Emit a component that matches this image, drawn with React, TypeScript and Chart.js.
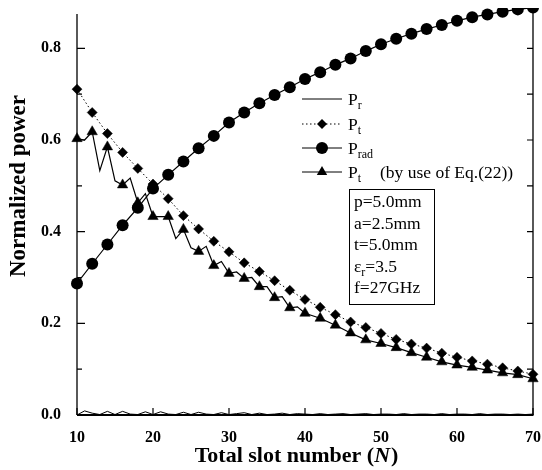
import React, { useEffect, useRef } from "react";
import { Chart, registerables } from "chart.js";

Chart.register(...registerables);

// ---------- data ----------
const slotsEven = [10, 12, 14, 16, 18, 20, 22, 24, 26, 28, 30, 32, 34, 36, 38, 40, 42, 44, 46, 48, 50, 52, 54, 56, 58, 60, 62, 64, 66, 68, 70];
const slotsInt = [10, 11, 12, 13, 14, 15, 16, 17, 18, 19, 20, 21, 22, 23, 24, 25, 26, 27, 28, 29, 30, 31, 32, 33, 34, 35, 36, 37, 38, 39, 40, 41, 42, 43, 44, 45, 46, 47, 48, 49, 50, 51, 52, 53, 54, 55, 56, 57, 58, 59, 60, 61, 62, 63, 64, 65, 66, 67, 68, 69, 70];
const slotsEq22 = [10, 11, 12, 13, 14, 15, 16, 17, 18, 19, 20, 21, 22, 23, 24, 25, 26, 27, 28, 29, 30, 31, 32, 33, 34, 35, 36, 37, 38, 39, 40, 42, 44, 46, 48, 50, 52, 54, 56, 58, 60, 62, 64, 66, 68, 70];

const pR = [0.0, 0.009, 0.004, 0.001, 0.008, 0.001, 0.008, 0.002, 0.001, 0.007, 0.001, 0.007, 0.002, 0.001, 0.006, 0.001, 0.006, 0.002, 0.001, 0.005, 0.001, 0.003, 0.005, 0.001, 0.004, 0.001, 0.002, 0.004, 0.001, 0.003, 0.002, 0.001, 0.003, 0.001, 0.002, 0.003, 0.001, 0.002, 0.003, 0.001, 0.002, 0.002, 0.001, 0.003, 0.001, 0.002, 0.002, 0.001, 0.003, 0.001, 0.002, 0.002, 0.001, 0.003, 0.001, 0.002, 0.002, 0.001, 0.002, 0.001, 0.002];
const pT = [0.711, 0.660, 0.614, 0.573, 0.538, 0.504, 0.472, 0.435, 0.406, 0.379, 0.356, 0.332, 0.313, 0.293, 0.272, 0.252, 0.235, 0.219, 0.203, 0.191, 0.178, 0.165, 0.155, 0.146, 0.135, 0.126, 0.118, 0.111, 0.103, 0.096, 0.089];
const pRad = [0.287, 0.330, 0.372, 0.414, 0.452, 0.494, 0.524, 0.553, 0.582, 0.609, 0.638, 0.660, 0.680, 0.698, 0.715, 0.733, 0.748, 0.764, 0.778, 0.794, 0.809, 0.821, 0.832, 0.842, 0.851, 0.860, 0.868, 0.874, 0.880, 0.885, 0.889];
const pTEq22 = [0.603, 0.600, 0.618, 0.533, 0.585, 0.511, 0.502, 0.517, 0.463, 0.483, 0.433, 0.433, 0.433, 0.385, 0.405, 0.365, 0.357, 0.368, 0.326, 0.335, 0.309, 0.312, 0.298, 0.300, 0.280, 0.280, 0.256, 0.258, 0.234, 0.236, 0.222, 0.211, 0.196, 0.179, 0.164, 0.156, 0.147, 0.136, 0.126, 0.116, 0.109, 0.104, 0.098, 0.092, 0.088, 0.079];

const xTickValues = [10, 20, 30, 40, 50, 60, 70];
const yMajorTicks = [0, 0.2, 0.4, 0.6, 0.8];
const yMinorTicks = [0.1, 0.3, 0.5, 0.7];

const xTitle = ["Total slot number (", "N", ")"];
const yTitle = "Normalized power";

const legendEntries = [
  { main: "P", sub: "r", extra: "", dashed: false, marker: "" },
  { main: "P", sub: "t", extra: "", dashed: true, marker: "diamond" },
  { main: "P", sub: "rad", extra: "", dashed: false, marker: "circle" },
  { main: "P", sub: "t", extra: "(by use of Eq.(22))", dashed: false, marker: "triangle" },
];

const paramLines = [
  ["p=5.0mm", "", ""],
  ["a=2.5mm", "", ""],
  ["t=5.0mm", "", ""],
  ["ε", "r", "=3.5"],
  ["f=27GHz", "", ""],
];

const SERIF = "'Liberation Serif', 'Times New Roman', serif";

function drawMarker(ctx: CanvasRenderingContext2D, kind: string, x: number, y: number) {
  ctx.save();
  ctx.fillStyle = "#000";
  ctx.beginPath();
  if (kind === "circle") {
    ctx.arc(x, y, 6, 0, Math.PI * 2);
  } else if (kind === "diamond") {
    ctx.moveTo(x, y - 5);
    ctx.lineTo(x + 5, y);
    ctx.lineTo(x, y + 5);
    ctx.lineTo(x - 5, y);
    ctx.closePath();
  } else if (kind === "triangle") {
    const r = 6;
    ctx.moveTo(x, y - r);
    ctx.lineTo(x + r * Math.sin(Math.PI / 3), y + r / 2);
    ctx.lineTo(x - r * Math.sin(Math.PI / 3), y + r / 2);
    ctx.closePath();
  }
  ctx.fill();
  ctx.restore();
}

function drawSubText(ctx: CanvasRenderingContext2D, main: string, sub: string, rest: string, x: number, y: number, size: number) {
  ctx.font = `${size}px ${SERIF}`;
  ctx.fillText(main, x, y);
  let cx = x + ctx.measureText(main).width;
  if (sub) {
    ctx.font = `${Math.round(size * 0.7)}px ${SERIF}`;
    ctx.fillText(sub, cx, y + 4);
    cx += ctx.measureText(sub).width;
  }
  if (rest) {
    ctx.font = `${size}px ${SERIF}`;
    ctx.fillText(rest, cx, y);
    cx += ctx.measureText(rest).width;
  }
  return cx;
}

const decorPlugin = {
  id: "decor",
  afterDraw(chart: any) {
    const ctx: CanvasRenderingContext2D = chart.ctx;
    const { left, right, top, bottom } = chart.chartArea;
    const xs = chart.scales.x;
    const ys = chart.scales.y;
    ctx.save();
    ctx.strokeStyle = "#000";
    ctx.fillStyle = "#000";

    // axes
    ctx.lineWidth = 1.3;
    ctx.beginPath();
    ctx.moveTo(left, top + 6);
    ctx.lineTo(left, bottom);
    ctx.moveTo(right, top);
    ctx.lineTo(right, bottom);
    ctx.stroke();
    ctx.lineWidth = 2;
    ctx.beginPath();
    ctx.moveTo(left, bottom);
    ctx.lineTo(right + 0.5, bottom);
    ctx.stroke();

    // inward ticks
    ctx.lineWidth = 1.2;
    ctx.beginPath();
    yMajorTicks.forEach((v) => {
      const py = ys.getPixelForValue(v);
      ctx.moveTo(left, py);
      ctx.lineTo(left + 8, py);
      ctx.moveTo(right, py);
      ctx.lineTo(right - 6, py);
    });
    yMinorTicks.forEach((v) => {
      const py = ys.getPixelForValue(v);
      ctx.moveTo(left, py);
      ctx.lineTo(left + 5, py);
      ctx.moveTo(right, py);
      ctx.lineTo(right - 6, py);
    });
    xTickValues.forEach((v) => {
      const px = xs.getPixelForValue(v);
      ctx.moveTo(px, bottom);
      ctx.lineTo(px, bottom - 7);
    });
    ctx.stroke();

    // axis titles
    ctx.textBaseline = "alphabetic";
    ctx.font = `bold 23px ${SERIF}`;
    ctx.save();
    ctx.translate(25, 186);
    ctx.rotate(-Math.PI / 2);
    ctx.textAlign = "center";
    ctx.fillText(yTitle, 0, 0);
    ctx.restore();

    ctx.textAlign = "left";
    const f1 = `bold 22px ${SERIF}`;
    const f2 = `italic bold 22px ${SERIF}`;
    ctx.font = f1;
    const w1 = ctx.measureText(xTitle[0]).width;
    const w3 = ctx.measureText(xTitle[2]).width;
    ctx.font = f2;
    const w2 = ctx.measureText(xTitle[1]).width;
    let tx = 296 - (w1 + w2 + w3) / 2;
    const ty = 462;
    ctx.font = f1;
    ctx.fillText(xTitle[0], tx, ty);
    tx += w1;
    ctx.font = f2;
    ctx.fillText(xTitle[1], tx, ty);
    tx += w2 + 1;
    ctx.font = f1;
    ctx.fillText(xTitle[2], tx, ty);

    // legend
    const rowsY = [99, 124, 148, 172];
    legendEntries.forEach((e, i) => {
      const y = rowsY[i];
      ctx.save();
      ctx.lineWidth = 1;
      if (e.dashed) ctx.setLineDash([1.5, 2.5]);
      ctx.beginPath();
      ctx.moveTo(302, y);
      ctx.lineTo(342, y);
      ctx.stroke();
      ctx.restore();
      if (e.marker) drawMarker(ctx, e.marker, 322, y);
      drawSubText(ctx, e.main, e.sub, "", 348, y + 6, 17.5);
      if (e.extra) {
        ctx.font = `17.5px ${SERIF}`;
        ctx.fillText(e.extra, 380, y + 6);
      }
    });

    // parameter box
    ctx.lineWidth = 1;
    ctx.strokeRect(349.5, 189.5, 85, 115);
    paramLines.forEach((p, i) => {
      drawSubText(ctx, p[0], p[1], p[2], 354, 207 + i * 21.5, 17.5);
    });

    ctx.restore();
  },
};

export default function App() {
  const ref = useRef<HTMLCanvasElement | null>(null);

  useEffect(() => {
    document.body.style.margin = "0";
    const canvas = ref.current;
    if (!canvas) return;
    const clip = { left: 12, right: 12, top: 0, bottom: 12 };
    const chart = new Chart(canvas, {
      type: "line",
      data: {
        datasets: [
          {
            label: "Pr",
            data: slotsInt.map((n, i) => ({ x: n, y: pR[i] })),
            borderColor: "#000",
            borderWidth: 1,
            pointRadius: 0,
            clip,
          },
          {
            label: "Pt",
            data: slotsEven.map((n, i) => ({ x: n, y: pT[i] })),
            borderColor: "#000",
            borderWidth: 1,
            borderDash: [1.5, 2.5],
            pointStyle: "rectRot",
            pointRadius: 5,
            pointBackgroundColor: "#000",
            pointBorderColor: "#000",
            pointBorderWidth: 0.5,
            clip,
          },
          {
            label: "Prad",
            data: slotsEven.map((n, i) => ({ x: n, y: pRad[i] })),
            borderColor: "#000",
            borderWidth: 1.2,
            pointStyle: "circle",
            pointRadius: 6,
            pointBackgroundColor: "#000",
            pointBorderColor: "#000",
            pointBorderWidth: 0,
            clip,
          },
          {
            label: "Pt Eq22",
            data: slotsEq22.map((n, i) => ({ x: n, y: pTEq22[i] })),
            borderColor: "#000",
            borderWidth: 1.2,
            pointStyle: "triangle",
            pointRadius: (c: any) => (c.raw && c.raw.x % 2 === 0 ? 6 : 0),
            pointBackgroundColor: "#000",
            pointBorderColor: "#000",
            pointBorderWidth: 0.5,
            clip,
          },
        ] as any,
      },
      options: {
        responsive: false,
        animation: false,
        events: [],
        layout: { padding: { top: 8, right: 9, left: 0, bottom: 0 } },
        plugins: { legend: { display: false }, tooltip: { enabled: false } },
        scales: {
          x: {
            type: "linear",
            min: 10,
            max: 70,
            grid: { display: false },
            border: { display: false },
            afterBuildTicks: (s: any) => {
              s.ticks = xTickValues.map((v) => ({ value: v }));
            },
            afterFit: (s: any) => {
              s.height = 55;
              s.paddingLeft = 0;
              s.paddingRight = 0;
            },
            ticks: {
              padding: 5,
              color: "#000",
              maxRotation: 0,
              autoSkip: false,
              font: { family: SERIF, size: 16, weight: "bold" },
              callback: (v: any) => String(v),
            },
          },
          y: {
            type: "linear",
            min: 0,
            max: 0.888,
            grid: { display: false },
            border: { display: false },
            afterBuildTicks: (s: any) => {
              s.ticks = yMajorTicks.map((v) => ({ value: v }));
            },
            afterFit: (s: any) => {
              s.width = 77;
              s.paddingTop = 0;
              s.paddingBottom = 0;
            },
            ticks: {
              padding: 8,
              color: "#000",
              autoSkip: false,
              font: { family: SERIF, size: 16, weight: "bold" },
              callback: (v: any) => Number(v).toFixed(1),
            },
          },
        },
      } as any,
      plugins: [decorPlugin],
    });
    return () => chart.destroy();
  }, []);

  return <canvas ref={ref} width={542} height={470} style={{ display: "block" }} />;
}
